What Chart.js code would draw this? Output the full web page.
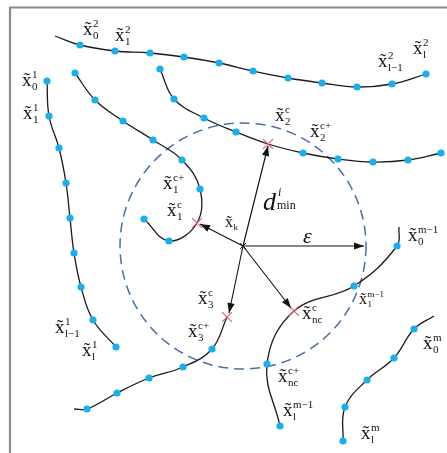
<!DOCTYPE html>
<html>
<head>
<meta charset="utf-8">
<script src="https://cdn.jsdelivr.net/npm/chart.js@4/dist/chart.umd.min.js"></script>
<style>
  html, body { margin: 0; padding: 0; background: #fff; }
  canvas { display: block; }
</style>
</head>
<body>
<canvas id="c" width="447" height="453"></canvas>
<script>
// Trajectory samples (plane coordinates, y grows downward)
const traj2   = [[55,36],[80,45],[115,51],[150,53],[184,57],[219,63],[253,71],[288,78],[322,83],[357,87],[392,84],[426,74]];
const traj1   = [[47,81],[49,116],[59,148],[66,183],[70,218],[74,253],[81,287],[93,320],[116,347]];
const trajC1  = [[75,73],[95,100],[123,121],[153,140],[182,160],[200,189],[197,223],[169,241],[144,219]];
const trajC2  = [[160,69],[174,99],[204,118],[236,132],[268,144],[303,153],[338,159],[373,162],[408,160],[441,153]];
const trajM1  = [[399,227],[397,246],[354,286],[294,311],[267,364],[280,426]];
const trajM   = [[434,316],[414,329],[394,358],[367,380],[345,407],[343,441]];
const trajC3  = [[74,409],[87,409],[117,393],[149,378],[183,367],[212,349],[227,317]];

// indices of path vertices that are not sample points
const bare2 = [0], bare1 = [], bareC1 = [6], bareC2 = [4], bareM1 = [0,3], bareM = [0], bareC3 = [0,6];

// query point and neighbourhood radius
const queryPoint = [243,246];
const epsRadius = 123;

// crossing points with the neighbourhood
const crossings = [[197,223],[268,144],[227,317],[294,311]];

// arrow tips from the query point
const arrowTips = [[200,224],[268,146],[364,246],[229,313],[291,308]];

const toXY = a => a.map(p => ({x: p[0], y: p[1]}));

function curve(pts, bare) {
  return {
    type: 'line',
    data: toXY(pts),
    borderColor: '#1a1a1a',
    borderWidth: 1.3,
    tension: 0.4,
    pointRadius: c => bare.includes(c.dataIndex) ? 0 : 3.6,
    pointHoverRadius: 0,
    pointBackgroundColor: '#1aaeee',
    pointBorderWidth: 0,
    clip: false,
    order: 2
  };
}

const arrowSets = arrowTips.map(t => ({
  type: 'line',
  data: toXY([queryPoint, t]),
  borderColor: '#111',
  borderWidth: 1.1,
  pointRadius: 0,
  tension: 0,
  arrow: true,
  clip: false,
  order: 1
}));

// labels: [sub, sup, anchor x, baseline y, size]
const labels = [
  ['0','2',83,35,19], ['1','2',115,41,19], ['l−1','2',378,67,19], ['l','2',413,54,19],
  ['0','1',22,86,19], ['1','1',23,119,19], ['l−1','1',55,333,19], ['l','1',82,356,19],
  ['2','c',275,121,19], ['2','c+',310,137,19],
  ['1','c+',163,189,19], ['1','c',167,216,19],
  ['k','',225,227,16],
  ['3','c',198,304,19], ['3','c+',188,337,19],
  ['nc','c',302,319,19], ['nc','c+',278,382,19],
  ['l','m−1',283,416,19], ['0','m−1',408,241,19], ['1','m−1',359,304,16],
  ['0','m',423,349,19], ['l','m',361,439,19]
];

const sketchPlugin = {
  id: 'sketch',
  beforeDatasetsDraw(chart) {
    const {ctx, scales: {x, y}} = chart;
    ctx.save();
    // frame
    ctx.strokeStyle = '#8a8a8a';
    ctx.lineWidth = 2.2;
    ctx.beginPath();
    ctx.moveTo(x.getPixelForValue(10), y.getPixelForValue(453));
    ctx.lineTo(x.getPixelForValue(10), y.getPixelForValue(7.5));
    ctx.lineTo(x.getPixelForValue(447), y.getPixelForValue(7.5));
    ctx.stroke();
    // neighbourhood circle
    const cx = x.getPixelForValue(queryPoint[0]);
    const cy = y.getPixelForValue(queryPoint[1]);
    const r = x.getPixelForValue(queryPoint[0] + epsRadius) - cx;
    ctx.strokeStyle = '#4a6ea6';
    ctx.lineWidth = 1.5;
    ctx.setLineDash([10, 6]);
    ctx.beginPath();
    ctx.arc(cx, cy, r, 0, Math.PI * 2);
    ctx.stroke();
    ctx.restore();
  },
  afterDatasetsDraw(chart) {
    const {ctx} = chart;
    ctx.save();
    chart.data.datasets.forEach((ds, i) => {
      if (!ds.arrow) return;
      const pts = chart.getDatasetMeta(i).data;
      const a = pts[0], b = pts[pts.length - 1];
      const ang = Math.atan2(b.y - a.y, b.x - a.x);
      const L = 10, W = 3.6;
      ctx.fillStyle = '#111';
      ctx.beginPath();
      ctx.moveTo(b.x, b.y);
      ctx.lineTo(b.x - L * Math.cos(ang) + W * Math.sin(ang), b.y - L * Math.sin(ang) - W * Math.cos(ang));
      ctx.lineTo(b.x - L * Math.cos(ang) - W * Math.sin(ang), b.y - L * Math.sin(ang) + W * Math.cos(ang));
      ctx.closePath();
      ctx.fill();
    });
    ctx.restore();
  },
  afterDraw(chart) {
    const {ctx, scales: {x, y}} = chart;
    ctx.save();
    ctx.fillStyle = '#111';
    ctx.textBaseline = 'alphabetic';
    labels.forEach(([sub, sup, lx, ly, size]) => {
      const px = x.getPixelForValue(lx), py = y.getPixelForValue(ly);
      ctx.font = `${size}px "Liberation Serif"`;
      ctx.fillText('x\u0303', px, py);
      const w = ctx.measureText('x').width;
      const small = Math.round(size * 0.58);
      ctx.font = `${small}px "Liberation Serif"`;
      if (sup) ctx.fillText(sup, px + w + 0.5, py - size * 0.42);
      if (sub) ctx.fillText(sub, px + w + 0.5, py + size * 0.2);
    });
    // d^i_min
    let px = x.getPixelForValue(263), py = y.getPixelForValue(210);
    ctx.font = 'italic 26px "Liberation Serif"';
    ctx.fillText('d', px, py);
    const dw = ctx.measureText('d').width;
    ctx.font = 'italic 12px "Liberation Serif"';
    ctx.fillText('i', px + dw + 2, py - 14);
    ctx.font = '12px "Liberation Serif"';
    ctx.fillText('min', px + dw + 1, py - 1);
    // epsilon
    ctx.font = 'italic 22px "Liberation Serif"';
    ctx.fillText('ε', x.getPixelForValue(303), y.getPixelForValue(243));
    ctx.restore();
  }
};

new Chart(document.getElementById('c'), {
  data: {
    datasets: [
      curve(traj2, bare2), curve(traj1, bare1), curve(trajC1, bareC1), curve(trajC2, bareC2),
      curve(trajM1, bareM1), curve(trajM, bareM), curve(trajC3, bareC3),
      ...arrowSets,
      {
        type: 'scatter',
        data: toXY(crossings),
        pointStyle: 'crossRot',
        pointRadius: 7,
        borderColor: '#e0606e',
        borderWidth: 1.2,
        clip: false,
        order: 0
      },
      {
        type: 'scatter',
        data: toXY([queryPoint]),
        pointStyle: 'crossRot',
        pointRadius: 4,
        borderColor: '#111',
        borderWidth: 1,
        clip: false,
        order: 0
      }
    ]
  },
  options: {
    responsive: false,
    animation: false,
    devicePixelRatio: 1,
    layout: { padding: 0, autoPadding: false },
    events: [],
    scales: {
      x: { type: 'linear', min: 0, max: 447, display: false },
      y: { type: 'linear', min: 0, max: 453, reverse: true, display: false }
    },
    plugins: { legend: { display: false }, tooltip: { enabled: false } }
  },
  plugins: [sketchPlugin]
});
</script>
</body>
</html>
